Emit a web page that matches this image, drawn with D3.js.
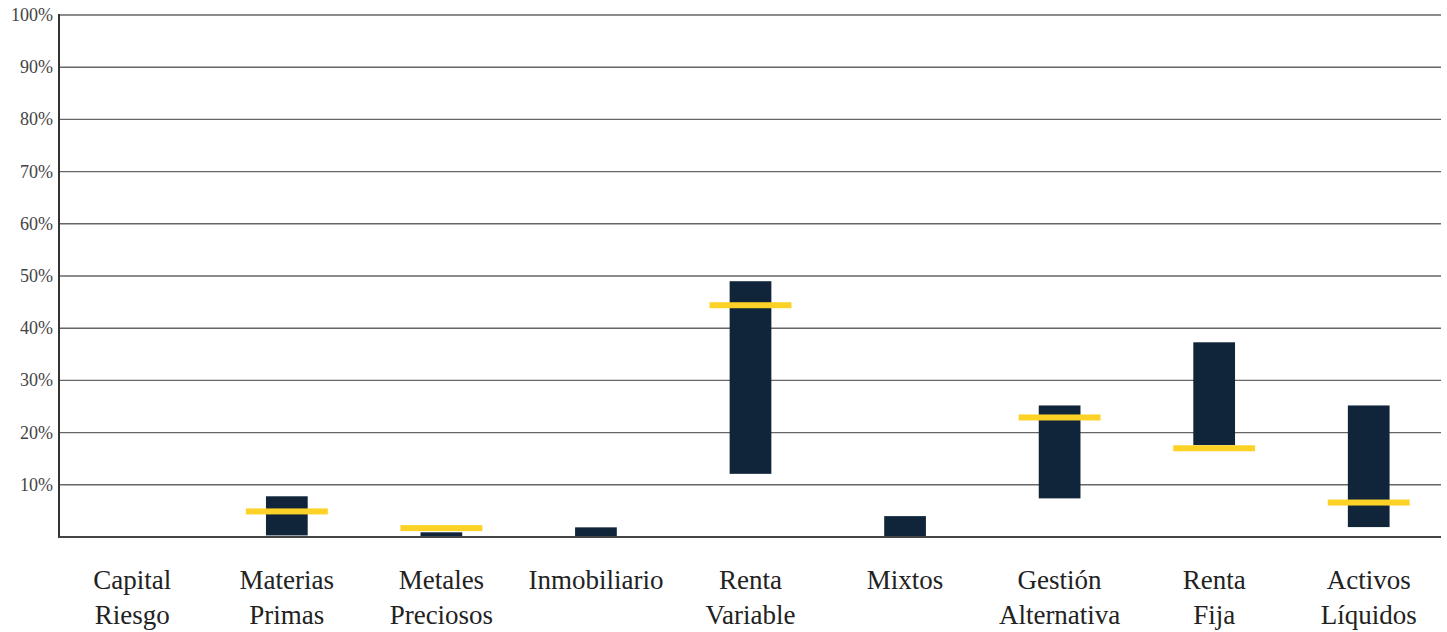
<!DOCTYPE html>
<html lang="es">
<head>
<meta charset="UTF-8">
<title>Rangos por clase de activo</title>
<script src="https://d3js.org/d3.v7.min.js"></script>
<style>
  body { margin: 0; background: #fff; }
  svg { display: block; }
  .tick-label { font: 18px 'Liberation Serif', 'DejaVu Serif', serif; fill: #444; }
  .cat-label { font: 27px 'Liberation Serif', 'DejaVu Serif', serif; fill: #222; }
  .grid { stroke: #666; stroke-width: 1.4px; }
</style>
</head>
<body>
<svg width="1447" height="632"></svg>
<script>
// categories (two lines per label)
var categories = ["Capital Riesgo", "Materias Primas", "Metales Preciosos", "Inmobiliario",
  "Renta Variable", "Mixtos", "Gestión Alternativa", "Renta Fija", "Activos Líquidos"];
var labelLines = [["Capital", "Riesgo"], ["Materias", "Primas"], ["Metales", "Preciosos"], ["Inmobiliario"],
  ["Renta", "Variable"], ["Mixtos"], ["Gestión", "Alternativa"], ["Renta", "Fija"], ["Activos", "Líquidos"]];

// range min / max (%), null = no data
var rangeMin = [null, 0.3, 0, 0, 12.1, 0, 7.4, 17.6, 1.9];
var rangeMax = [null, 7.8, 0.9, 1.85, 49.0, 4.0, 25.2, 37.3, 25.2];
// current allocation (%)
var current = [null, 4.9, 1.7, null, 44.4, null, 22.9, 17.0, 6.6];

var yTicks = [10, 20, 30, 40, 50, 60, 70, 80, 90, 100];

var svg = d3.select("svg");
var plotLeft = 59, plotRight = 1441, plotTop = 15, plotBottom = 537;

var x = d3.scaleBand().domain(categories).range([55, 1446]).padding(0);
var y = d3.scaleLinear().domain([0, 100]).range([plotBottom, plotTop]);

// gridlines
svg.selectAll(".grid").data(yTicks).enter().append("line")
  .attr("class", "grid")
  .attr("x1", plotLeft).attr("x2", plotRight)
  .attr("y1", function(d) { return y(d); })
  .attr("y2", function(d) { return y(d); });

// y labels
svg.selectAll(".tick-label").data(yTicks).enter().append("text")
  .attr("class", "tick-label")
  .attr("x", 53)
  .attr("y", function(d) { return y(d) + 6; })
  .attr("text-anchor", "end")
  .text(function(d) { return d + "%"; });

// bars
var rows = categories.map(function(c, i) {
  return {cat: c, lo: rangeMin[i], hi: rangeMax[i], cur: current[i]};
});
var barW = x.bandwidth() * 0.27, markW = x.bandwidth() * 0.53;

svg.selectAll(".bar").data(rows.filter(function(d) { return d.hi != null; }))
  .enter().append("rect")
  .attr("class", "bar")
  .attr("x", function(d) { return x(d.cat) + x.bandwidth() / 2 - barW / 2; })
  .attr("width", barW)
  .attr("y", function(d) { return y(d.hi); })
  .attr("height", function(d) { return y(d.lo) - y(d.hi); })
  .attr("fill", "#10253a");

// current markers
svg.selectAll(".mark").data(rows.filter(function(d) { return d.cur != null; }))
  .enter().append("rect")
  .attr("class", "mark")
  .attr("x", function(d) { return x(d.cat) + x.bandwidth() / 2 - markW / 2; })
  .attr("width", markW)
  .attr("y", function(d) { return y(d.cur) - 3; })
  .attr("height", 6)
  .attr("fill", "#fcd226");

// axes lines
svg.append("line").attr("x1", plotLeft).attr("x2", plotLeft).attr("y1", plotTop - 1).attr("y2", plotBottom + 1)
  .attr("stroke", "#333").attr("stroke-width", 2);
svg.append("line").attr("x1", plotLeft).attr("x2", plotRight).attr("y1", plotBottom).attr("y2", plotBottom)
  .attr("stroke", "#444").attr("stroke-width", 2);

// category labels
var lab = svg.selectAll(".cat-label").data(categories).enter().append("text")
  .attr("class", "cat-label")
  .attr("text-anchor", "middle")
  .attr("transform", function(d) { return "translate(" + (x(d) + x.bandwidth() / 2) + ",0)"; });
lab.each(function(d, i) {
  var t = d3.select(this);
  labelLines[i].forEach(function(line, j) {
    t.append("tspan").attr("x", 0).attr("y", 589 + j * 35).text(line);
  });
});
</script>
</body>
</html>
